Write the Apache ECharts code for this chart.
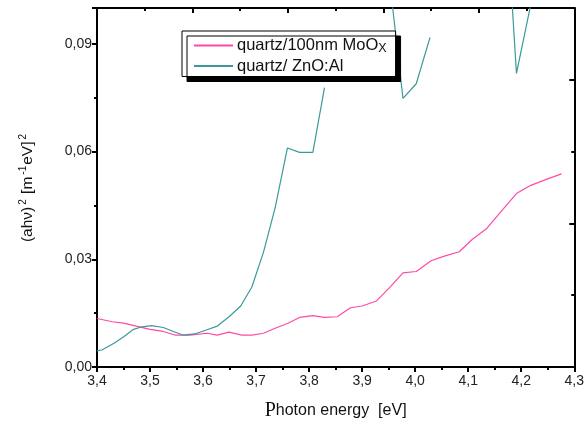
<!DOCTYPE html>
<html>
<head>
    <meta charset="utf-8">
    <title>ECharts</title>
    <script src="https://cdn.jsdelivr.net/npm/echarts@6/dist/echarts.min.js"></script>
</head>
<body style="margin:0">
    <div id="main" style="width:587px;height:426px;"></div>
    <script type="text/javascript">
// photon energy (eV) and (ahv)^2
var moEnergy = [3.400, 3.429, 3.450, 3.476, 3.500, 3.525, 3.547, 3.575, 3.608, 3.627, 3.649,
    3.673, 3.692, 3.714, 3.736, 3.760, 3.782, 3.807, 3.829, 3.853, 3.878, 3.900, 3.927,
    3.953, 3.977, 4.002, 4.030, 4.055, 4.083, 4.108, 4.135, 4.163, 4.191, 4.218, 4.246, 4.276];
var moValues = [0.0135, 0.0126, 0.0122, 0.0113, 0.0105, 0.0099, 0.0089, 0.0089, 0.0094, 0.0089, 0.0097,
    0.0089, 0.0089, 0.0094, 0.0108, 0.0122, 0.0138, 0.0143, 0.0138, 0.0140, 0.0165, 0.0170, 0.0184,
    0.0223, 0.0262, 0.0266, 0.0296, 0.0309, 0.0321, 0.0356, 0.0386, 0.0435, 0.0483, 0.0506, 0.0522, 0.0538];

// ZnO:Al goes off the top of the axis; null = no point in the original
var znEnergy = [3.400, 3.410, 3.432, 3.451, 3.469, 3.485, 3.503, 3.525, 3.544, 3.562, 3.584,
    3.606, 3.627, 3.649, 3.671, 3.692, 3.714, 3.736, 3.759, 3.782, 3.807, 3.829, 3.853,
    3.953, 3.977, 4.002, 4.028, 4.050,
    4.163, 4.191, 4.218, 4.246];
var znValues = [0.0045, 0.0048, 0.0066, 0.0085, 0.0105, 0.0112, 0.0115, 0.0110, 0.0099, 0.0089, 0.0092,
    0.0103, 0.0114, 0.0140, 0.0170, 0.0223, 0.0320, 0.0444, 0.0610, 0.0598, 0.0598, 0.0778, null,
    0.1060, 0.0748, 0.0789, 0.0918, null,
    0.1480, 0.0818, 0.1010, 0.1200];

var xTicks = [3.4, 4.3, 0.1];
var yTicks = [0, 0.1, 0.03];
var seriesNames = ['quartz/100nm MoOx', 'quartz/ ZnO:Al'];
var seriesColors = ['#ff4aa5', '#3a9a9a'];

function pairs(xs, ys) {
    return xs.map(function (x, i) { return [x, ys[i]]; });
}
function comma(v, d) {
    return v.toFixed(d).replace('.', ',');
}

var axisFont = { fontFamily: 'Liberation Sans', fontSize: 14, color: '#222' };
var frameLine = { color: '#000', width: 2 };

var myChart = echarts.init(document.getElementById('main'));
myChart.setOption({
    animation: false,
    backgroundColor: '#fff',
    grid: { left: 97, right: 7, top: 8, bottom: 57 },
    legend: {
        orient: 'vertical',
        left: 182,
        top: 31,
        padding: [6, 9, 2, 11],
        itemGap: 2,
        itemWidth: 39,
        itemHeight: 14,
        backgroundColor: '#fff',
        borderColor: '#000',
        borderWidth: 1,
        borderRadius: 0,
        shadowColor: '#000',
        shadowBlur: 0,
        shadowOffsetX: 5,
        shadowOffsetY: 5,
        itemStyle: { opacity: 0 },
        data: seriesNames,
        formatter: function (name) {
            return name.replace(/MoOx$/, 'MoO{sub|X}');
        },
        textStyle: {
            fontFamily: 'Liberation Sans',
            fontSize: 16.5,
            color: '#111',
            padding: [0, 0, 0, -1],
            rich: {
                sub: { fontFamily: 'Liberation Sans', fontSize: 12.5, padding: [7, 0, 0, 0] }
            }
        }
    },
    xAxis: [{
        type: 'value',
        min: xTicks[0], max: xTicks[1], interval: xTicks[2],
        name: '{p|P}hoton energy  [eV]',
        nameLocation: 'middle',
        nameGap: 34,
        nameTextStyle: {
            fontFamily: 'Liberation Sans', fontSize: 16, color: '#111',
            rich: { p: { fontFamily: 'Liberation Serif', fontSize: 20, color: '#111' } }
        },
        axisLine: { onZero: false, lineStyle: frameLine },
        axisTick: { inside: false, length: 5, lineStyle: frameLine },
        minorTick: { show: true, splitNumber: 2, length: 3, lineStyle: frameLine },
        splitLine: { show: false },
        axisLabel: Object.assign({ margin: 7, formatter: function (v) { return comma(v, 1); } }, axisFont)
    }, {
        type: 'value', position: 'top', min: 0, max: 10, interval: 2,
        axisLine: { onZero: false, lineStyle: frameLine },
        axisTick: { inside: true, length: 5, lineStyle: frameLine },
        minorTick: { show: true, splitNumber: 2, length: 3, lineStyle: frameLine },
        axisLabel: { show: false },
        splitLine: { show: false }
    }],
    yAxis: [{
        type: 'value',
        min: yTicks[0], max: yTicks[1], interval: yTicks[2],
        name: '(ahν){sup|2} [m{sup|-1}eV]{sup|2}',
        nameLocation: 'middle',
        nameGap: 60,
        nameTextStyle: {
            fontFamily: 'Liberation Sans', fontSize: 15.5, color: '#111',
            rich: { sup: { fontFamily: 'Liberation Sans', fontSize: 10, padding: [0, 1, 9, 2] } }
        },
        axisLine: { onZero: false, lineStyle: frameLine },
        axisTick: { inside: false, length: 5, lineStyle: frameLine },
        minorTick: { show: true, splitNumber: 2, length: 3, lineStyle: frameLine },
        splitLine: { show: false },
        axisLabel: Object.assign({
            margin: 5,
            formatter: function (v) { return v > 0.095 ? '' : comma(v, 2); }
        }, axisFont)
    }, {
        type: 'value', position: 'right', min: 0, max: 10, interval: 4,
        axisLine: { onZero: false, lineStyle: frameLine },
        axisTick: { inside: true, length: 5, lineStyle: frameLine },
        minorTick: { show: true, splitNumber: 2, length: 3, lineStyle: frameLine },
        axisLabel: { show: false },
        splitLine: { show: false }
    }],
    series: [{
        name: seriesNames[0],
        type: 'line',
        symbol: 'none',
        clip: true,
        color: seriesColors[0],
        lineStyle: { width: 1.2 },
        data: pairs(moEnergy, moValues)
    }, {
        name: seriesNames[1],
        type: 'line',
        symbol: 'none',
        clip: true,
        connectNulls: false,
        color: seriesColors[1],
        lineStyle: { width: 1.2 },
        data: pairs(znEnergy, znValues)
    }]
});
</script>
</body>
</html>
